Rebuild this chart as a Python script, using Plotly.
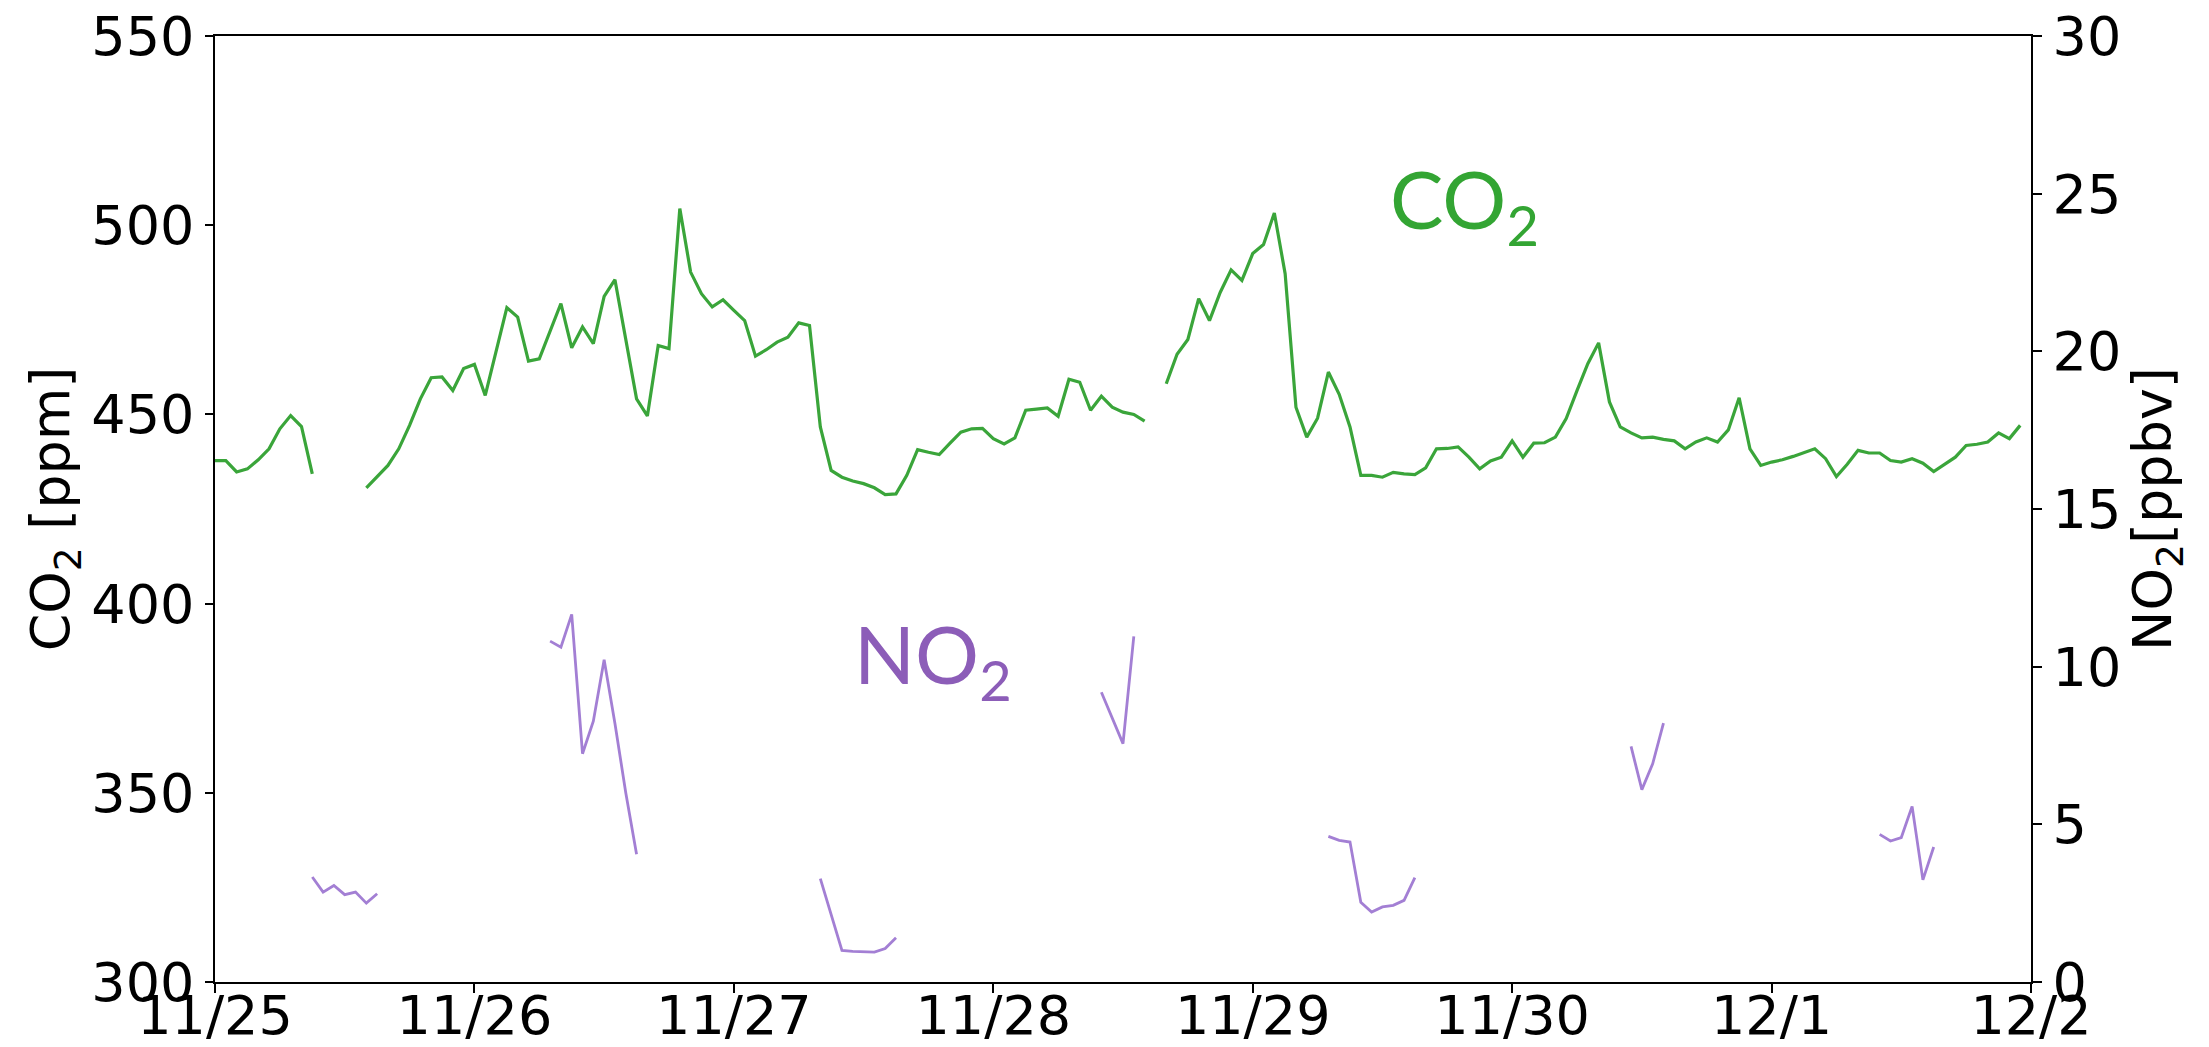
import pandas as pd
import plotly.graph_objects as go

# ---------------- data (hourly, starting 11/25 00:00) ----------------
co2_ppm = [
    437.8, 437.8, 434.8, 435.6, 438.0, 440.9, 446.2, 449.7, 446.8, 434.3,
    None, None, None, None,
    430.6, 433.6, 436.5, 440.9, 447.1, 454.1, 459.7, 459.9, 456.3, 462.1,
    463.2, 455.0, 466.5, 478.2, 475.7, 464.1, 464.7, 472.2, 479.3, 467.6,
    473.1, 468.7, 481.2, 485.6, 470.4, 454.1, 449.6, 468.2, 467.4, 504.4,
    487.6, 481.9, 478.4, 480.3, 477.5, 474.8, 465.4, 467.1, 469.1, 470.4,
    474.2, 473.5, 446.7, 435.2, 433.4, 432.4, 431.7, 430.6, 428.8, 429.0,
    433.9, 440.7, 440.0, 439.4, 442.4, 445.3, 446.2, 446.3, 443.6, 442.2,
    443.8, 451.1, 451.4, 451.7, 449.5, 459.3, 458.5, 451.1, 454.8, 451.9,
    450.6, 450.0, 448.2,
    None,
    458.1, 465.9, 469.8, 480.6, 474.8, 482.3, 488.2, 485.4, 492.5, 494.9,
    503.2, 487.2, 451.9, 444.0, 449.0, 461.2, 455.3, 446.7, 433.9, 433.9,
    433.4, 434.7, 434.3, 434.1, 435.9, 440.9, 441.0, 441.4, 438.7, 435.6,
    437.7, 438.7, 443.0, 438.7, 442.4, 442.5, 444.0, 448.9, 456.3, 463.4,
    468.9, 453.3, 446.7, 445.1, 443.8, 444.0, 443.4, 443.0, 440.9, 442.7,
    443.8, 442.7, 445.9, 454.4, 440.9, 436.5, 437.4, 438.0, 438.9, 440.0,
    440.9, 438.3, 433.6, 436.8, 440.5, 439.8, 439.8, 437.8, 437.4, 438.3,
    437.1, 434.9, 436.8, 438.7, 441.8, 442.1, 442.7, 445.1, 443.6, 447.1,
]

# NO2 is only available in short daytime windows
no2_start_hours = [9, 31, 56, 82, 103, 131, 154]
no2_segments = [
    [3.33, 2.85, 3.06, 2.77, 2.85, 2.50, 2.80],
    [10.81, 10.62, 11.66, 7.24, 8.27, 10.22, 8.2, 6.0, 4.05],
    [3.28, 2.15, 1.00, 0.97, 0.95, 0.95, 1.06, 1.40],
    [9.19, 8.4, 7.56, 10.96],
    [4.62, 4.49, 4.44, 2.53, 2.22, 2.38, 2.43, 2.59, 3.31],
    [7.47, 6.10, 6.92, 8.21],
    [4.68, 4.47, 4.58, 5.57, 3.24, 4.28],
]

day_ticks = ["2019-11-25", "2019-11-26", "2019-11-27", "2019-11-28",
             "2019-11-29", "2019-11-30", "2019-12-01", "2019-12-02"]
day_labels = ["11/25", "11/26", "11/27", "11/28", "11/29", "11/30", "12/1", "12/2"]

left_ticks = [300, 350, 400, 450, 500, 550]
right_ticks = [0, 5, 10, 15, 20, 25, 30]

# ---------------- build series ----------------
times = pd.date_range("2019-11-25 00:00", periods=len(co2_ppm), freq="h")
no2_full = [None] * len(co2_ppm)
for start, seg in zip(no2_start_hours, no2_segments):
    for i, v in enumerate(seg):
        no2_full[start + i] = v

CO2_LINE = "#3aa53a"
NO2_LINE = "#a37fd4"

fig = go.Figure()
fig.add_trace(go.Scatter(x=times, y=co2_ppm, mode="lines",
                         line=dict(color=CO2_LINE, width=3.2),
                         connectgaps=False, yaxis="y", showlegend=False))
fig.add_trace(go.Scatter(x=times, y=no2_full, mode="lines",
                         line=dict(color=NO2_LINE, width=2.8),
                         connectgaps=False, yaxis="y2", showlegend=False))

tick_font = dict(family="DejaVu Sans", size=54, color="black")
title_font = dict(family="DejaVu Sans", size=54, color="black")

xaxis_cfg = dict(
    range=[day_ticks[0], day_ticks[-1]],
    tickvals=day_ticks, ticktext=day_labels,
    showgrid=False, zeroline=False, automargin=False,
    showline=True, linecolor="black", linewidth=1.5, mirror=True,
    ticks="outside", ticklen=9, tickwidth=1.5, tickcolor="black",
    tickfont=tick_font,
)

fig.update_layout(
    width=2209, height=1047,
    margin=dict(l=215, r=178, t=36, b=65, autoexpand=False),
    paper_bgcolor="white", plot_bgcolor="white",
    xaxis=xaxis_cfg,
    yaxis=dict(
        range=[300, 550], tickvals=left_ticks,
        showgrid=False, zeroline=False, automargin=False,
        showline=True, linecolor="black", linewidth=1.5,
        ticks="outside", ticklen=8, tickwidth=1.5, tickcolor="black",
        tickfont=tick_font,
        title=dict(text="CO<sub>2</sub> [ppm]", font=title_font, standoff=4),
    ),
    yaxis2=dict(
        range=[0, 30], tickvals=right_ticks,
        overlaying="y", side="right",
        showgrid=False, zeroline=False, automargin=False,
        showline=True, linecolor="black", linewidth=1.5,
        ticks="outside", ticklen=9, tickwidth=1.5, tickcolor="black",
        tickfont=tick_font,
        title=dict(text="NO<sub>2</sub>[ppbv]", font=title_font, standoff=4),
    ),
    annotations=[
        dict(text="CO<sub>2</sub>", xref="paper", yref="paper",
             x=0.646, y=0.822, xanchor="left", yanchor="middle",
             showarrow=False,
             font=dict(family="Lato", size=80, color="#33a533")),
        dict(text="NO<sub>2</sub>", xref="paper", yref="paper",
             x=0.351, y=0.341, xanchor="left", yanchor="middle",
             showarrow=False,
             font=dict(family="Lato", size=80, color="#8c5db8")),
    ],
)

# pull the date labels up close to the axis, as in the reference
try:
    fig.update_xaxes(ticklabelstandoff=-24)
except Exception:
    pass

fig.write_html("out.html")
